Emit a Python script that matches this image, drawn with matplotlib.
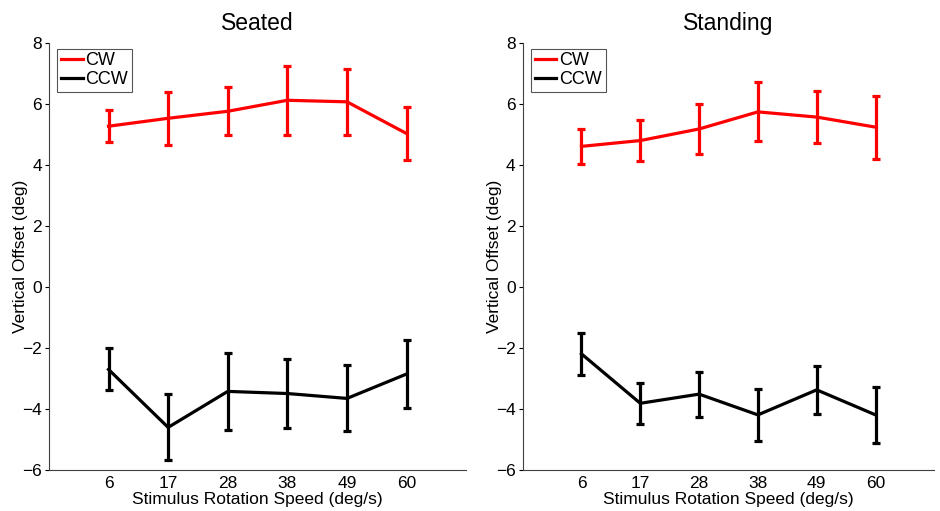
import matplotlib.pyplot as plt
from matplotlib.lines import Line2D

plt.rcParams["font.family"] = ["Liberation Sans", "DejaVu Sans"]

speeds = ["6", "17", "28", "38", "49", "60"]
x = [1, 2, 3, 4, 5, 6]

# Seated
seated_cw = [5.27, 5.53, 5.76, 6.12, 6.07, 5.03]
seated_cw_err = [0.53, 0.87, 0.78, 1.13, 1.08, 0.88]
seated_ccw = [-2.70, -4.60, -3.42, -3.49, -3.65, -2.85]
seated_ccw_err = [0.69, 1.08, 1.26, 1.12, 1.08, 1.10]

# Standing
standing_cw = [4.61, 4.80, 5.18, 5.74, 5.57, 5.24]
standing_cw_err = [0.57, 0.68, 0.81, 0.97, 0.86, 1.03]
standing_ccw = [-2.19, -3.81, -3.51, -4.19, -3.37, -4.19]
standing_ccw_err = [0.70, 0.68, 0.74, 0.85, 0.78, 0.91]

fig = plt.figure(figsize=(9.4, 5.11), dpi=100)
ax1 = fig.add_axes([0.052, 0.080, 0.444, 0.836])
ax2 = fig.add_axes([0.556, 0.080, 0.438, 0.836])

panels = [
    (ax1, "Seated", seated_cw, seated_cw_err, seated_ccw, seated_ccw_err),
    (ax2, "Standing", standing_cw, standing_cw_err, standing_ccw, standing_ccw_err),
]

lw = 2.3
for ax, title, cw, cw_err, ccw, ccw_err in panels:
    ax.errorbar(x, cw, yerr=cw_err, color="red", linewidth=lw,
                elinewidth=lw, capsize=3, capthick=lw)
    ax.errorbar(x, ccw, yerr=ccw_err, color="black", linewidth=lw,
                elinewidth=lw, capsize=3, capthick=lw)
    ax.set_xlim(0, 7)
    ax.set_ylim(-6, 8)
    ax.set_xticks(x)
    ax.set_xticklabels(speeds)
    ax.set_yticks(range(-6, 9, 2))
    ax.tick_params(direction="out", length=3, width=0.8, labelsize=12.5, pad=2)
    ax.tick_params(axis="x", length=0, pad=4)
    ax.spines["top"].set_visible(False)
    ax.spines["right"].set_visible(False)
    for sp in ("left", "bottom"):
        ax.spines[sp].set_color("#404040")
    ax.set_title(title, fontsize=16.5, pad=9)
    ax.set_xlabel("Stimulus Rotation Speed (deg/s)", fontsize=12.5, labelpad=1)
    ax.set_ylabel("Vertical Offset (deg)", fontsize=12.5, labelpad=-4)
    handles = [Line2D([], [], color="red", linewidth=lw),
               Line2D([], [], color="black", linewidth=lw)]
    leg = ax.legend(handles, ["CW", "CCW"], loc="upper left",
                    bbox_to_anchor=(0.012, 0.995), fontsize=13,
                    handlelength=1.2, handletextpad=0.15, borderpad=0.2,
                    borderaxespad=0.2, labelspacing=0.1, fancybox=False,
                    framealpha=1)
    leg.get_frame().set_edgecolor("#555555")
    leg.get_frame().set_linewidth(0.8)

fig.savefig("out.png", dpi=100)
